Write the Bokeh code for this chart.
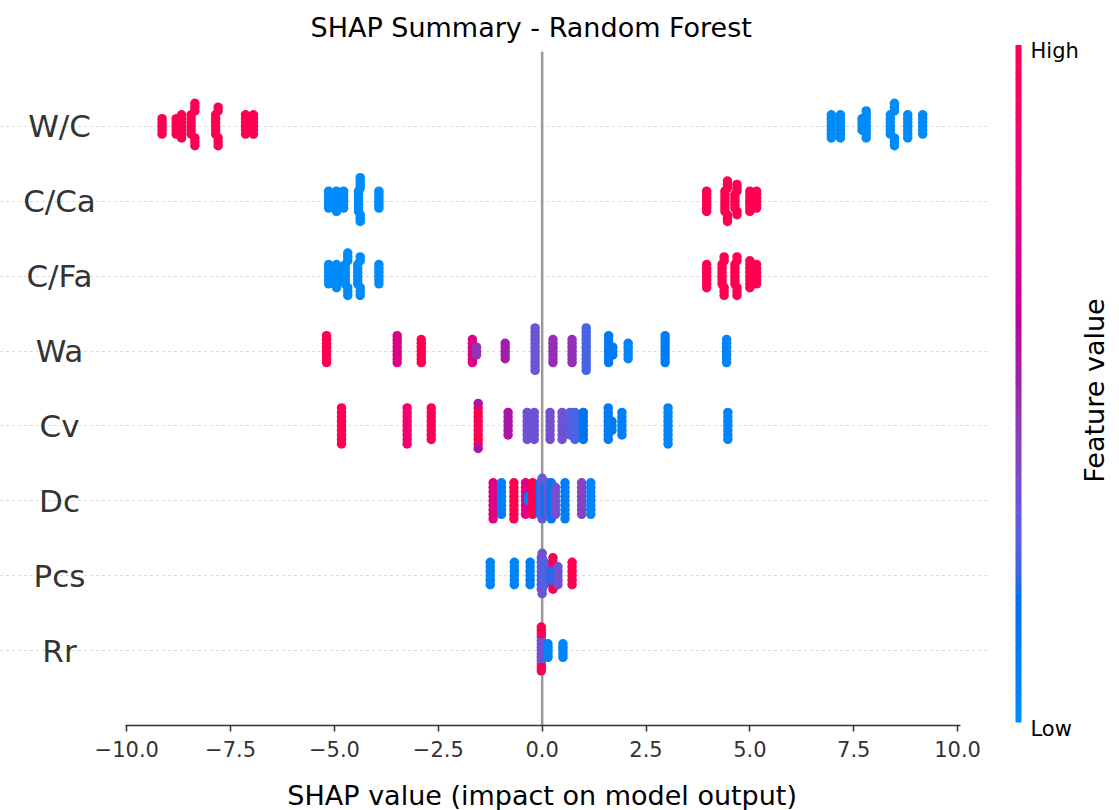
import numpy as np
from bokeh.plotting import figure
from bokeh.layouts import row, column
from bokeh.models import Range1d, FixedTicker, Span, ColumnDataSource
from bokeh.transform import linear_cmap
from bokeh.core.properties import value
from bokeh.embed import file_html
from bokeh.resources import INLINE

# feature order, bottom row first
features = ["Rr", "Pcs", "Dc", "Cv", "Wa", "C/Fa", "C/Ca", "W/C"]

# For each feature: SHAP value of a group of samples, number of samples in
# the group, and the (normalised) feature value of that group.
wc_x = [-9.15, -8.81, -8.68, -8.45, -8.36, -7.86, -7.80, -7.14, -6.95,
        6.96, 7.18, 7.70, 7.80, 8.38, 8.48, 8.80, 9.16]
wc_n = [5, 5, 7, 6, 6, 6, 5, 6, 6, 7, 7, 4, 8, 6, 6, 7, 6]
wc_v = [1, 1, 1, 1, 1, 1, 1, 1, 1, 0, 0, 0, 0, 0, 0, 0, 0]

cca_x = [-5.14, -4.95, -4.78, -4.42, -4.38, -3.93, 3.96, 4.40, 4.46, 4.64, 4.69, 5.00, 5.16]
cca_n = [6, 7, 6, 7, 7, 6, 7, 7, 6, 5, 5, 7, 6]
cca_v = [0, 0, 0, 0, 0, 0, 1, 1, 1, 1, 1, 1, 1]

cfa_x = [-5.14, -4.95, -4.74, -4.68, -4.44, -4.38, -3.93, 3.96, 4.33, 4.38, 4.64, 4.69, 5.00, 5.16]
cfa_n = [6, 7, 6, 6, 6, 5, 6, 7, 6, 5, 6, 5, 8, 6]
cfa_v = [0, 0, 0, 0, 0, 0, 0, 1, 1, 1, 1, 1, 1, 1]

wa_x = [-5.19, -3.49, -2.91, -1.68, -1.58, -0.89, -0.17, 0.26, 0.72, 1.06, 1.60, 1.70, 2.07, 2.96, 4.44]
wa_n = [8, 8, 7, 7, 3, 5, 12, 7, 7, 12, 8, 3, 5, 8, 7]
wa_v = [1.0, 0.72, 1.0, 0.74, 0.45, 0.52, 0.32, 0.47, 0.47, 0.24, 0.12, 0.12, 0.03, 0.10, 0.05]

cv_x = [-4.83, -3.25, -2.67, -1.54, -1.54, -0.82, -0.36, -0.19, 0.19, 0.48, 0.67, 0.79, 0.99,
        1.59, 1.68, 1.92, 3.03, 4.47]
cv_n = [9, 9, 8, 9, 2, 6, 7, 7, 7, 7, 6, 7, 7, 8, 3, 6, 9, 7]
cv_v = [1.0, 0.85, 1.0, 1.0, 0.55, 0.55, 0.33, 0.33, 0.35, 0.33, 0.28, 0.24, 0.16,
        0.10, 0.10, 0.07, 0.05, 0.05]

dc_x = [-1.18, -0.98, -0.68, -0.40, -0.33, -0.23, -0.05, 0.0, 0.07, 0.14, 0.22, 0.32, 0.55, 0.95, 1.17]
dc_n = [9, 8, 9, 8, 2, 8, 8, 10, 7, 8, 9, 7, 9, 8, 8]
dc_v = [0.75, 0.08, 1.0, 0.75, 0.08, 1.0, 0.10, 0.30, 0.15, 0.30, 0.12, 0.35, 0.08, 0.40, 0.05]

pcs_x = [-1.25, -0.67, -0.29, -0.02, 0.0, 0.06, 0.26, 0.22, 0.38, 0.72]
pcs_n = [6, 6, 6, 8, 10, 6, 8, 3, 5, 6]
pcs_v = [0.05, 0.05, 0.08, 0.10, 0.33, 0.25, 1.0, 0.20, 0.33, 1.0]

rr_x = [-0.02, -0.02, 0.14, 0.50]
rr_n = [9, 5, 5, 5]
rr_v = [0.33, 1.0, 0.05, 0.05]

groups = [
    (rr_x, rr_n, rr_v), (pcs_x, pcs_n, pcs_v), (dc_x, dc_n, dc_v), (cv_x, cv_n, cv_v),
    (wa_x, wa_n, wa_v), (cfa_x, cfa_n, cfa_v), (cca_x, cca_n, cca_v), (wc_x, wc_n, wc_v),
]

x_ticks = [-10.0, -7.5, -5.0, -2.5, 0.0, 2.5, 5.0, 7.5, 10.0]
x_tick_labels = ["\u221210.0", "\u22127.5", "\u22125.0", "\u22122.5", "0.0", "2.5", "5.0", "7.5", "10.0"]


def red_blue_palette(n=100):
    """Blue -> purple -> red scale interpolated in LCh space."""
    blue_lch = (54.0, 70.0, 4.6588)
    red_lch = (54.0, 90.0, 0.35470565 + 2 * np.pi)
    l_mid = 40.0
    L = np.r_[np.linspace(blue_lch[0], l_mid, n // 2), np.linspace(l_mid, red_lch[0], n - n // 2)]
    C = np.linspace(blue_lch[1], red_lch[1], n)
    H = np.linspace(blue_lch[2], red_lch[2], n)
    a, b = C * np.cos(H), C * np.sin(H)
    fy = (L + 16) / 116
    fx, fz = fy + a / 500, fy - b / 200

    def finv(t):
        return np.where(t > 6 / 29, t ** 3, 3 * (6 / 29) ** 2 * (t - 4 / 29))

    X, Y, Z = 0.95047 * finv(fx), finv(fy), 1.08883 * finv(fz)
    r = 3.2406 * X - 1.5372 * Y - 0.4986 * Z
    g = -0.9689 * X + 1.8758 * Y + 0.0415 * Z
    bl = 0.0557 * X - 0.2040 * Y + 1.0570 * Z

    def gamma(v):
        v = np.clip(v, 0, None)
        return np.where(v <= 0.0031308, 12.92 * v, 1.055 * v ** (1 / 2.4) - 0.055)

    rgb = np.clip(np.stack([gamma(r), gamma(g), gamma(bl)], axis=1), 0, 1)
    return ["#%02x%02x%02x" % tuple(int(round(c * 255)) for c in px) for px in rgb]


def swarm_offsets(xs, nbins=100, row_height=0.4):
    """Vertical offsets that pile up samples falling in the same SHAP bin."""
    xs = np.asarray(xs, dtype=float)
    quant = np.round(nbins * (xs - xs.min()) / (xs.max() - xs.min() + 1e-8))
    order = np.argsort(quant, kind="stable")
    ys = np.zeros(len(xs))
    layer, last = 0, None
    for i in order:
        if quant[i] != last:
            layer = 0
        ys[i] = np.ceil(layer / 2) * ((layer % 2) * 2 - 1)
        layer += 1
        last = quant[i]
    ys *= 0.9 * (row_height / np.max(ys + 1))
    return ys


palette = red_blue_palette(100)

xs_all, ys_all, vs_all = [], [], []
for pos, (gx, gn, gv) in enumerate(groups):
    px = np.repeat(np.asarray(gx, float), gn)
    pv = np.repeat(np.asarray(gv, float), gn)
    xs_all.append(px)
    ys_all.append(pos + swarm_offsets(px))
    vs_all.append(pv)
src = ColumnDataSource(dict(x=np.concatenate(xs_all), y=np.concatenate(ys_all), v=np.concatenate(vs_all)))

FONT = "DejaVu Sans"
AXIS = "#333333"

# horizontal layout: the frame also holds the feature names on its left
X_LO, X_HI = -10.03, 10.07
PAD_L, PAD_R = 125, 30
MAIN_W, MAIN_H, LABEL_H = 990, 770, 40
scale = (MAIN_W - PAD_L - PAD_R) / (X_HI - X_LO)

p = figure(width=MAIN_W, height=MAIN_H, output_backend="svg", toolbar_location=None,
           x_range=Range1d(X_LO - PAD_L / scale, X_HI + PAD_R / scale),
           y_range=Range1d(-1, len(features)), y_axis_location=None,
           min_border_left=0, min_border_right=0, min_border_top=50, min_border_bottom=45,
           title="SHAP Summary - Random Forest")
p.outline_line_color = None
p.background_fill_color = "white"
p.border_fill_color = "white"

p.title.align = "left"
p.title.offset = 310
p.title.text_font = FONT
p.title.text_font_size = "27px"
p.title.text_font_style = "normal"
p.title.text_color = "black"
p.title.standoff = 18

# dotted guide per feature row
p.xgrid.visible = False
p.ygrid.ticker = FixedTicker(ticks=list(range(len(features))))
p.ygrid.bounds = (X_LO, X_HI)
p.ygrid.grid_line_color = "#cccccc"
p.ygrid.grid_line_dash = "2 4"
p.ygrid.grid_line_width = 1

p.xaxis.bounds = (X_LO, X_HI)
p.xaxis.ticker = FixedTicker(ticks=x_ticks)
p.xaxis.major_label_overrides = {t: s for t, s in zip(x_ticks, x_tick_labels)}
p.xaxis.minor_tick_line_color = None
p.xaxis.major_tick_in = 0
p.xaxis.major_tick_out = 6
p.xaxis.major_tick_line_color = AXIS
p.xaxis.major_tick_line_width = 1.5
p.xaxis.axis_line_color = AXIS
p.xaxis.axis_line_width = 1.5
p.xaxis.major_label_text_font = FONT
p.xaxis.major_label_text_font_size = "21px"
p.xaxis.major_label_text_color = AXIS
p.xaxis.major_label_standoff = 9

p.add_layout(Span(location=0, dimension="height", line_color="#999999", line_width=2.5, level="underlay"))

p.scatter("x", "y", source=src, size=9.5, line_color=None,
          fill_color=linear_cmap("v", palette, 0, 1))

# feature names, centred in the space left of the axes
p.text(x=[X_LO] * len(features), y=list(range(len(features))), text=features,
       x_offset=-66, text_align="center", text_baseline="middle",
       text_font=value(FONT), text_font_size="31px", text_color=AXIS)

# strip under the axes carrying the x-axis title
xl = figure(width=MAIN_W, height=LABEL_H, output_backend="svg", toolbar_location=None,
            x_range=Range1d(0, MAIN_W), y_range=Range1d(0, LABEL_H),
            x_axis_location=None, y_axis_location=None,
            min_border_left=0, min_border_right=0, min_border_top=0, min_border_bottom=0)
xl.grid.visible = False
xl.outline_line_color = None
xl.text(x=[PAD_L + (0 - X_LO) * scale], y=[LABEL_H - 25], text=["SHAP value (impact on model output)"],
        text_font=value(FONT), text_font_size="27px", text_color="black",
        text_align="center", text_baseline="middle")

# colour bar panel (pixel coordinates, y measured from the bottom)
CB_W = 1119 - MAIN_W
CB_H = MAIN_H + LABEL_H
cb = figure(width=CB_W, height=CB_H, output_backend="svg", toolbar_location=None,
            x_range=Range1d(0, CB_W), y_range=Range1d(0, CB_H),
            x_axis_location=None, y_axis_location=None,
            min_border_left=0, min_border_right=0, min_border_top=0, min_border_bottom=0)
for fig in (p, xl, cb):
    if "frame_align" in fig.properties():
        fig.frame_align = False
cb.grid.visible = False
cb.outline_line_color = None
bar_bottom, bar_top = CB_H - 722.0, CB_H - 45.0
edges = np.linspace(bar_bottom, bar_top, len(palette) + 1)
cb.quad(left=25, right=31, bottom=edges[:-1], top=edges[1:] + 0.5, fill_color=palette, line_color=None)
cb.text(x=[40, 40], y=[CB_H - 50, CB_H - 728], text=["High", "Low"],
        text_font=value(FONT), text_font_size="21px", text_color="black",
        text_align="left", text_baseline="middle")
cb.text(x=[104], y=[CB_H - 390], text=["Feature value"], angle=np.pi / 2,
        text_font=value(FONT), text_font_size="27px", text_color="black",
        text_align="center", text_baseline="middle")

layout = row(column(p, xl), cb)
open("out.html", "w").write(file_html(layout, INLINE))
